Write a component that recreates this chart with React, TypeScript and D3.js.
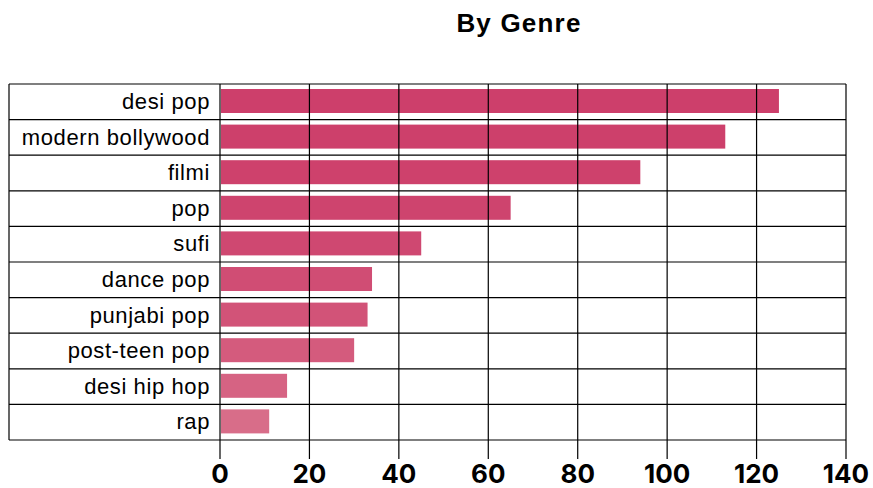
import React, { useRef, useEffect } from 'react';
import * as d3 from 'd3';

// genres, top to bottom
const genres = ['desi pop', 'modern bollywood', 'filmi', 'pop', 'sufi', 'dance pop', 'punjabi pop', 'post-teen pop', 'desi hip hop', 'rap'];
const counts = [125, 113, 94, 65, 45, 34, 33, 30, 15, 11];
const xTicks = [0, 20, 40, 60, 80, 100, 120, 140];

export default function App() {
  const svgRef = useRef<SVGSVGElement>(null);

  useEffect(() => {
    if (!svgRef.current) return;
    document.body.style.margin = '0';

    const width = 873;
    const height = 488;
    const svg = d3.select(svgRef.current).attr('width', width).attr('height', height);
    svg.selectAll('*').remove();

    const margins = { top: 84, bottom: 48, left: 220, right: 27 };
    const frameLeft = 9;
    const chartWidth = width - margins.left - margins.right;
    const chartHeight = height - margins.top - margins.bottom;

    const xScale = d3.scaleLinear().domain([0, 140]).range([0, chartWidth]);
    const yScale = d3.scaleBand().domain(genres).range([0, chartHeight]).paddingInner(0);

    // colour fades with rank, slowly at first
    const colorScale = d3.scalePow<string>()
      .exponent(2)
      .domain([0, genres.length - 1])
      .range(['#cd3f6b', '#d86d89']);

    // title
    svg.append('text')
      .attr('x', 519)
      .attr('y', 32)
      .attr('text-anchor', 'middle')
      .attr('font-family', 'Liberation Sans, Arial, sans-serif')
      .attr('font-weight', 'bold')
      .attr('font-size', '26px')
      .attr('letter-spacing', '1.2px')
      .attr('fill', '#000')
      .text('By Genre');

    const g = svg.append('g').attr('transform', `translate(${margins.left}, ${margins.top})`);

    // bars
    const bh = 24;
    g.selectAll('rect.bar')
      .data(genres)
      .enter()
      .append('rect')
      .attr('class', 'bar')
      .attr('x', 1)
      .attr('y', d => yScale(d)! + (yScale.bandwidth() - bh) / 2 - 0.8)
      .attr('width', (_, i) => xScale(counts[i]) - 1)
      .attr('height', bh)
      .attr('fill', (_, i) => colorScale(i));

    // vertical grid lines (extend below as ticks)
    g.selectAll('line.vgrid')
      .data(xTicks)
      .enter()
      .append('line')
      .attr('x1', d => xScale(d))
      .attr('x2', d => xScale(d))
      .attr('y1', 0)
      .attr('y2', chartHeight + 19)
      .attr('stroke', '#000')
      .attr('stroke-width', 1.2);

    // row separators
    const rowEdges = genres.map(d => yScale(d)!).concat([chartHeight]);
    g.selectAll('line.hgrid')
      .data(rowEdges)
      .enter()
      .append('line')
      .attr('x1', frameLeft - margins.left)
      .attr('x2', chartWidth)
      .attr('y1', d => d)
      .attr('y2', d => d)
      .attr('stroke', '#000')
      .attr('stroke-width', 1.2);

    // left frame
    g.append('line')
      .attr('x1', frameLeft - margins.left)
      .attr('x2', frameLeft - margins.left)
      .attr('y1', 0)
      .attr('y2', chartHeight)
      .attr('stroke', '#000')
      .attr('stroke-width', 1.2);

    // category labels
    g.selectAll('text.cat')
      .data(genres)
      .enter()
      .append('text')
      .attr('x', -10)
      .attr('y', d => yScale(d)! + yScale.bandwidth() / 2)
      .attr('dy', '0.33em')
      .attr('text-anchor', 'end')
      .attr('font-family', 'Liberation Sans, Arial, sans-serif')
      .attr('font-size', '22px')
      .attr('letter-spacing', '0.6px')
      .attr('fill', '#000')
      .text(d => d);

    // x tick labels
    g.selectAll('text.tick')
      .data(xTicks)
      .enter()
      .append('text')
      .attr('x', d => xScale(d))
      .attr('y', chartHeight + 43)
      .attr('text-anchor', 'middle')
      .attr('font-family', 'Inter, Roboto, sans-serif')
      .attr('font-weight', 'bold')
      .attr('font-size', '26px')
      .attr('fill', '#000')
      .text(d => String(d));
  }, []);

  return <svg ref={svgRef} style={{ display: 'block', background: '#fff' }} />;
}
